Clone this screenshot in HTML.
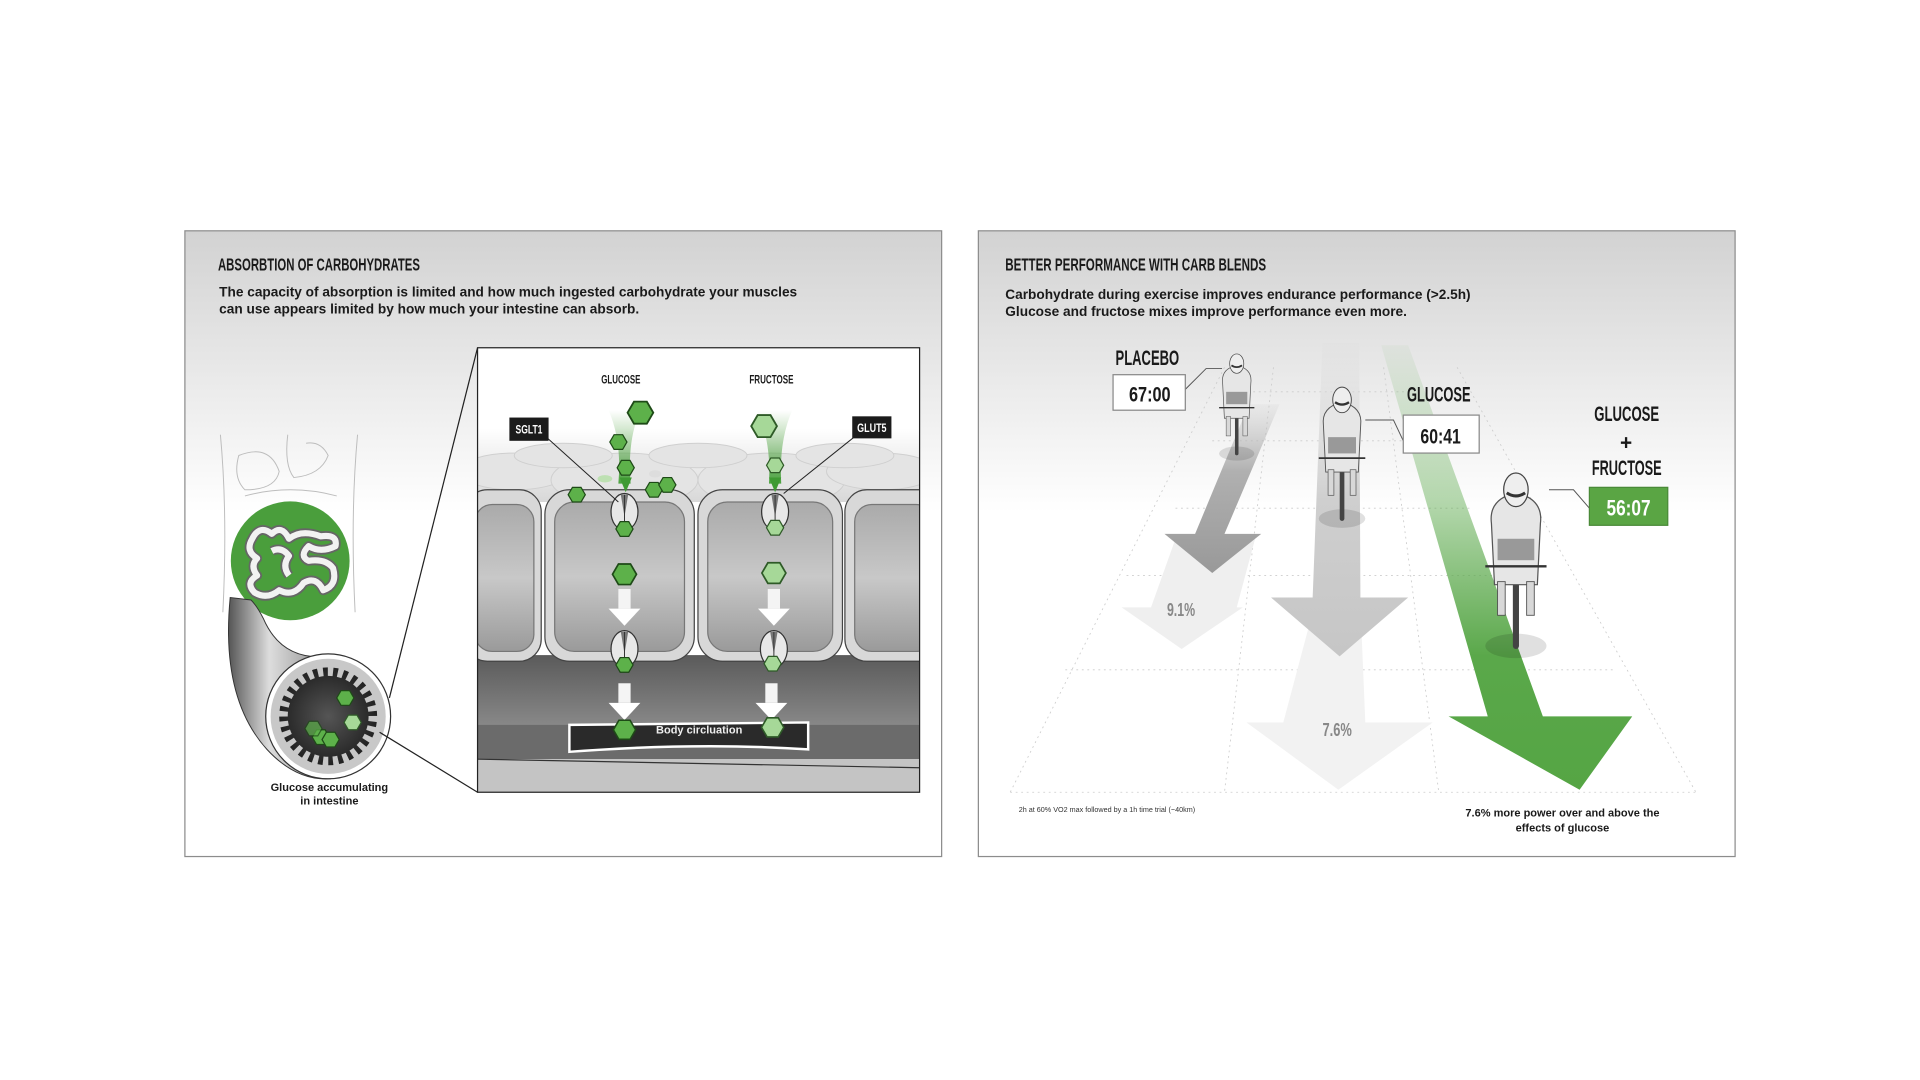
<!DOCTYPE html>
<html><head><meta charset="utf-8"><style>
html,body{margin:0;padding:0;background:#fff;width:1920px;height:1080px;overflow:hidden}
svg{display:block}
.t{font-family:"Liberation Sans Narrow","Liberation Sans",sans-serif;font-weight:bold;fill:#1a1a1a}
.b{font-family:"Liberation Sans",sans-serif;font-weight:bold;fill:#1a1a1a}
</style></head><body>
<svg width="1920" height="1080" viewBox="0 0 1568 882" xmlns="http://www.w3.org/2000/svg">
<defs>
<linearGradient id="pg" x1="0" y1="0" x2="0" y2="1"><stop offset="0" stop-color="#d2d2d2"/><stop offset="0.45" stop-color="#fff"/><stop offset="1" stop-color="#fff"/></linearGradient>
<linearGradient id="cell" x1="0" y1="0" x2="0" y2="1"><stop offset="0" stop-color="#aaa"/><stop offset="0.5" stop-color="#c8c8c8"/><stop offset="1" stop-color="#9a9a9a"/></linearGradient>
<linearGradient id="top" x1="0" y1="0" x2="0" y2="1"><stop offset="0" stop-color="#fff"/><stop offset="1" stop-color="#d8d8d8"/></linearGradient>
<linearGradient id="dark" x1="0" y1="0" x2="0" y2="1"><stop offset="0" stop-color="#5a5a5a"/><stop offset="1" stop-color="#8a8a8a"/></linearGradient>
<linearGradient id="gbeam" x1="0" y1="0" x2="0" y2="1"><stop offset="0" stop-color="#5aa84a" stop-opacity="0"/><stop offset="1" stop-color="#4ca340"/></linearGradient>
<linearGradient id="garr" x1="0" y1="0" x2="0" y2="1"><stop offset="0" stop-color="#5aa84a" stop-opacity="0.05"/><stop offset="0.35" stop-color="#5aa84a" stop-opacity="0.45"/><stop offset="0.7" stop-color="#5aa84a"/><stop offset="1" stop-color="#55a544"/></linearGradient>
<linearGradient id="grr" x1="0" y1="0" x2="0" y2="1"><stop offset="0" stop-color="#bdbdbd" stop-opacity="0.1"/><stop offset="0.4" stop-color="#b0b0b0"/><stop offset="1" stop-color="#999"/></linearGradient>
<linearGradient id="grr2" x1="0" y1="0" x2="0" y2="1"><stop offset="0" stop-color="#ddd" stop-opacity="0.2"/><stop offset="0.5" stop-color="#cfcfcf"/><stop offset="1" stop-color="#c6c6c6"/></linearGradient>
<linearGradient id="tubeg" x1="0" y1="0" x2="1" y2="0"><stop offset="0" stop-color="#555"/><stop offset="0.4" stop-color="#ddd"/><stop offset="1" stop-color="#888"/></linearGradient>
<radialGradient id="tube" cx="0.5" cy="0.5" r="0.5"><stop offset="0" stop-color="#555"/><stop offset="1" stop-color="#222"/></radialGradient>
<polygon id="hx" points="-7,0 -3.5,-6 3.5,-6 7,0 3.5,6 -3.5,6" fill="#5db14a" stroke="#1e4a17" stroke-width="1"/>
<polygon id="hxl" points="-7,0 -3.5,-6 3.5,-6 7,0 3.5,6 -3.5,6" fill="#a6d898" stroke="#2e5a27" stroke-width="1"/>
<g id="trans"><ellipse cx="0" cy="0" rx="11" ry="15" fill="#e8e8e8" stroke="#333" stroke-width="1"/><path d="M-3,-14 L0,4 L3,-14Z" fill="#777"/><line x1="0" y1="-14" x2="0" y2="14" stroke="#333" stroke-width="0.8"/></g>
<g id="wa"><rect x="-5" y="-14" width="10" height="16" fill="#f4f4f4"/><polygon points="-13,2 13,2 0,16" fill="#fff"/></g>
<g id="cyc">
<ellipse cx="0" cy="70" rx="20" ry="8" fill="#000" opacity="0.12"/>
<rect x="-2" y="20" width="4" height="52" rx="2" fill="#444"/>
<path d="M-16,-10 Q-18,-26 0,-30 Q18,-26 16,-10 L14,30 L-14,30Z" fill="#e6e6e6" stroke="#555" stroke-width="0.8"/>
<rect x="-12" y="0" width="24" height="14" fill="#999"/>
<ellipse cx="0" cy="-32" rx="8" ry="11" fill="#eee" stroke="#444" stroke-width="0.8"/>
<path d="M-6,-30 Q0,-26 6,-30" stroke="#333" stroke-width="2" fill="none"/>
<line x1="-20" y1="18" x2="20" y2="18" stroke="#333" stroke-width="1.5"/>
<rect x="-12" y="28" width="5" height="22" fill="#d8d8d8" stroke="#555" stroke-width="0.6"/>
<rect x="7" y="28" width="5" height="22" fill="#d8d8d8" stroke="#555" stroke-width="0.6"/>
</g>
</defs>

<!-- LEFT PANEL -->
<rect x="151" y="188.5" width="618" height="511" fill="url(#pg)" stroke="#8c8c8c" stroke-width="1"/>
<text class="t" x="178" y="221" font-size="14" textLength="165" lengthAdjust="spacingAndGlyphs">ABSORBTION OF CARBOHYDRATES</text>
<text class="b" x="179" y="242" font-size="11" textLength="472" lengthAdjust="spacingAndGlyphs">The capacity of absorption is limited and how much ingested carbohydrate your muscles</text>
<text class="b" x="179" y="256" font-size="11" textLength="343" lengthAdjust="spacingAndGlyphs">can use appears limited by how much your intestine can absorb.</text>

<!-- torso -->
<g fill="none" stroke="#bdbdbd" stroke-width="0.8">
<path d="M180,355 Q186,420 182,500"/><path d="M292,355 Q286,420 290,500"/>
<path d="M235,355 Q232,380 240,390 Q262,388 268,372 Q262,360 250,362"/>
<path d="M195,372 Q220,362 228,385 Q225,400 200,400 Q190,390 195,372Z"/>
<path d="M200,405 Q237,395 275,405"/>
</g>
<circle cx="237" cy="458" r="48.5" fill="#4a9e3c"/>
<path d="M206,440 Q212,428 222,436 Q230,428 236,440 Q246,432 262,438 Q276,436 274,446 Q262,452 252,446 Q244,454 252,458 Q266,456 272,464 Q276,478 264,482 Q258,470 248,476 Q240,488 228,482 Q218,490 208,484 Q200,476 210,470 Q204,462 210,456 Q200,450 206,440Z M222,450 Q230,446 236,454 Q230,462 236,470" fill="none" stroke="#666" stroke-width="8" stroke-linejoin="round"/>
<path d="M206,440 Q212,428 222,436 Q230,428 236,440 Q246,432 262,438 Q276,436 274,446 Q262,452 252,446 Q244,454 252,458 Q266,456 272,464 Q276,478 264,482 Q258,470 248,476 Q240,488 228,482 Q218,490 208,484 Q200,476 210,470 Q204,462 210,456 Q200,450 206,440Z M222,450 Q230,446 236,454 Q230,462 236,470" fill="none" stroke="#f2f2f2" stroke-width="5" stroke-linejoin="round"/>
<!-- tube to cross section -->
<path d="M188,488 Q180,570 218,612 Q242,638 270,636 L268,536 Q230,540 215,505 Q210,495 205,490Z" fill="url(#tubeg)" stroke="#333" stroke-width="0.8"/>
<circle cx="268" cy="585" r="51" fill="#fff" stroke="#333" stroke-width="1"/>
<circle cx="268" cy="585" r="47" fill="#c8c8c8"/>
<circle cx="268" cy="585" r="40" fill="url(#tube)"/>
<circle cx="268" cy="585" r="38" fill="none" stroke="#c8c8c8" stroke-width="10" stroke-dasharray="4.5 4"/>
<use href="#hx" x="282" y="570"/>
<use href="#hxl" x="288" y="590"/>
<use href="#hx" x="262" y="602"/><use href="#hx" x="270" y="604"/><use href="#hx" x="256" y="595" opacity="0.7"/>
<text class="b" x="269" y="646" font-size="9" text-anchor="middle">Glucose accumulating</text>
<text class="b" x="269" y="657" font-size="9" text-anchor="middle">in intestine</text>
<line x1="318" y1="570" x2="390" y2="284" stroke="#222" stroke-width="1"/>
<line x1="310" y1="598" x2="390" y2="647" stroke="#222" stroke-width="1"/>

<!-- inset -->
<svg x="390" y="284" width="361" height="363" viewBox="390 284 361 363">
<rect x="390" y="284" width="361" height="363" fill="#fff"/>
<rect x="390" y="350" width="361" height="60" fill="url(#top)"/>
<g fill="#e4e4e4" stroke="#cfcfcf" stroke-width="0.8">
<ellipse cx="420" cy="385" rx="45" ry="15"/><ellipse cx="510" cy="392" rx="60" ry="22"/><ellipse cx="630" cy="392" rx="60" ry="22"/><ellipse cx="720" cy="385" rx="45" ry="15"/>
<ellipse cx="460" cy="372" rx="40" ry="10"/><ellipse cx="570" cy="372" rx="40" ry="10"/><ellipse cx="690" cy="372" rx="40" ry="10"/>
</g>
<rect x="390" y="535" width="361" height="60" fill="url(#dark)"/>
<rect x="390" y="592" width="361" height="28" fill="#6b6b6b"/>
<rect x="390" y="620" width="361" height="27" fill="#c4c4c4"/>
<line x1="390" y1="620" x2="751" y2="627" stroke="#333"/>
<g stroke="#444" stroke-width="1">
<rect x="380" y="400" width="62" height="140" rx="18" fill="#d8d8d8"/><rect x="388" y="412" width="48" height="120" rx="14" fill="url(#cell)" stroke="#777"/>
<rect x="445" y="400" width="122" height="140" rx="20" fill="#d8d8d8"/><rect x="453" y="410" width="106" height="122" rx="16" fill="url(#cell)" stroke="#777"/>
<rect x="570" y="400" width="118" height="140" rx="20" fill="#d8d8d8"/><rect x="578" y="410" width="102" height="122" rx="16" fill="url(#cell)" stroke="#777"/>
<rect x="690" y="400" width="80" height="140" rx="18" fill="#d8d8d8"/><rect x="698" y="412" width="64" height="120" rx="14" fill="url(#cell)" stroke="#777"/>
</g>
<path d="M465,592 L660,590 L660,612 Q570,606 465,614Z" fill="#2a2a2a" stroke="#fff" stroke-width="2"/>
<text class="b" x="571" y="599" font-size="9" style="fill:#eee" text-anchor="middle">Body circluation</text>
<path d="M497,335 Q508,360 505,395 L515,395 Q512,360 523,335Z" fill="url(#gbeam)"/>
<path d="M618,335 Q630,360 628,395 L638,395 Q636,360 647,335Z" fill="url(#gbeam)"/>
<polygon points="506,390 516,390 511,402" fill="#3f9a33"/>
<polygon points="628,390 638,390 633,402" fill="#3f9a33"/>
<use href="#hx" transform="translate(523,337) scale(1.5)"/><use href="#hx" x="505" y="361"/>
<use href="#hx" x="511" y="382" transform="translate(0,0)"/><use href="#hx" x="471" y="404"/><use href="#hx" x="534" y="400"/><use href="#hx" x="545" y="396"/>
<ellipse cx="494" cy="391" rx="6" ry="3" fill="#bde0b2"/><ellipse cx="535" cy="387" rx="5" ry="3" fill="#ddd"/>
<use href="#hxl" transform="translate(624,348) scale(1.5)"/><use href="#hxl" x="633" y="380"/>
<use href="#trans" x="510" y="418"/><use href="#trans" x="633" y="418"/>
<use href="#hx" x="510" y="432"/><use href="#hxl" x="633" y="431"/>
<use href="#hx" transform="translate(510,469) scale(1.4)"/><use href="#hxl" transform="translate(632,468) scale(1.4)"/>
<use href="#wa" x="510" y="495"/><use href="#wa" x="632" y="495"/>
<use href="#trans" x="510" y="530"/><use href="#trans" x="632" y="530"/>
<use href="#hx" x="510" y="543"/><use href="#hxl" x="631" y="542"/>
<use href="#wa" x="510" y="572"/><use href="#wa" x="630" y="572"/>
<use href="#hx" transform="translate(510,596) scale(1.3)"/><use href="#hxl" transform="translate(631,594) scale(1.3)"/>
<text class="t" x="491" y="313" font-size="10" textLength="32" lengthAdjust="spacingAndGlyphs">GLUCOSE</text>
<text class="t" x="612" y="313" font-size="10" textLength="36" lengthAdjust="spacingAndGlyphs">FRUCTOSE</text>
<line x1="445" y1="356" x2="505" y2="410" stroke="#222" stroke-width="0.8"/>
<line x1="700" y1="355" x2="640" y2="403" stroke="#222" stroke-width="0.8"/>
<rect x="416" y="341" width="32" height="19" fill="#1b1b1b"/><text class="t" x="421" y="354" font-size="10" style="fill:#fff" textLength="22" lengthAdjust="spacingAndGlyphs">SGLT1</text>
<rect x="696" y="340" width="32" height="18" fill="#1b1b1b"/><text class="t" x="700" y="353" font-size="10" style="fill:#fff" textLength="24" lengthAdjust="spacingAndGlyphs">GLUT5</text>
</svg>
<rect x="390" y="284" width="361" height="363" fill="none" stroke="#222" stroke-width="1"/>

<!-- RIGHT PANEL -->
<rect x="799" y="188.5" width="618" height="511" fill="url(#pg)" stroke="#8c8c8c" stroke-width="1"/>
<text class="t" x="821" y="221" font-size="14" textLength="213" lengthAdjust="spacingAndGlyphs">BETTER PERFORMANCE WITH CARB BLENDS</text>
<text class="b" x="821" y="244" font-size="11" textLength="380" lengthAdjust="spacingAndGlyphs">Carbohydrate during exercise improves endurance performance (&gt;2.5h)</text>
<text class="b" x="821" y="258" font-size="11" textLength="328" lengthAdjust="spacingAndGlyphs">Glucose and fructose mixes improve performance even more.</text>
<g stroke="#ccc" stroke-width="0.7" stroke-dasharray="1.5 3" fill="none">
<line x1="1010" y1="320" x2="1150" y2="320"/><line x1="990" y1="360" x2="1170" y2="360"/><line x1="960" y1="415" x2="1200" y2="415"/>
<line x1="920" y1="470" x2="1240" y2="470"/><line x1="870" y1="547" x2="1320" y2="547"/><line x1="825" y1="647" x2="1385" y2="647"/>
<line x1="1000" y1="300" x2="825" y2="647"/><line x1="1040" y1="300" x2="1000" y2="647"/><line x1="1130" y1="300" x2="1175" y2="647"/><line x1="1190" y1="300" x2="1385" y2="647"/>
</g>
<polygon points="1005,440 1025,440 1010,496 1015,496 965,530 916,496 940,496 960,440" fill="#efefef"/>
<polygon points="1030,330 1045,330 1000,436 1030,436 990,468 951,436 976,436 1020,330" fill="url(#grr)"/>
<polygon points="1080,470 1110,470 1115,590 1170,590 1093,645 1018,590 1048,590" fill="#f2f2f2"/>
<polygon points="1080,280 1110,280 1111,488 1150,488 1094,536 1038,488 1072,488" fill="url(#grr2)"/>
<polygon points="1128,282 1150,282 1260,585 1333,585 1290,645 1183,585 1215,585" fill="url(#garr)"/>
<use href="#cyc" transform="translate(1010,320) scale(0.72)"/>
<use href="#cyc" transform="translate(1096,357) scale(0.95)"/>
<use href="#cyc" transform="translate(1238,440) scale(1.25)"/>
<text class="t" x="911" y="298" font-size="17" textLength="52" lengthAdjust="spacingAndGlyphs">PLACEBO</text>
<polyline points="968,318 985,301 998,301" fill="none" stroke="#555" stroke-width="0.8"/>
<rect x="909" y="306" width="59" height="29" fill="#fff" stroke="#888"/>
<text class="t" x="922" y="328" font-size="17" textLength="34" lengthAdjust="spacingAndGlyphs">67:00</text>
<text class="t" x="1149" y="328" font-size="17" textLength="52" lengthAdjust="spacingAndGlyphs">GLUCOSE</text>
<polyline points="1146,360 1138,343 1115,343" fill="none" stroke="#555" stroke-width="0.8"/>
<rect x="1146" y="339" width="62" height="31" fill="#fff" stroke="#888"/>
<text class="t" x="1160" y="362" font-size="17" textLength="33" lengthAdjust="spacingAndGlyphs">60:41</text>
<text class="t" x="1302" y="344" font-size="17" textLength="53" lengthAdjust="spacingAndGlyphs">GLUCOSE</text>
<text class="t" x="1328" y="367" font-size="17" text-anchor="middle">+</text>
<text class="t" x="1300" y="388" font-size="17" textLength="57" lengthAdjust="spacingAndGlyphs">FRUCTOSE</text>
<polyline points="1298,415 1285,400 1265,400" fill="none" stroke="#555" stroke-width="0.8"/>
<rect x="1298" y="398" width="64" height="31" fill="#5aa544" stroke="#4a8a38"/>
<text class="t" x="1312" y="421" font-size="18" style="fill:#fff" textLength="36" lengthAdjust="spacingAndGlyphs">56:07</text>
<text class="t" x="953" y="503" font-size="15" style="fill:#888" textLength="23" lengthAdjust="spacingAndGlyphs">9.1%</text>
<text class="t" x="1080" y="601" font-size="15" style="fill:#888" textLength="24" lengthAdjust="spacingAndGlyphs">7.6%</text>
<text font-family="Liberation Sans,sans-serif" x="832" y="663" font-size="6" fill="#333" textLength="144" lengthAdjust="spacingAndGlyphs">2h at 60% VO2 max followed by a 1h time trial (~40km)</text>
<text class="b" x="1276" y="667" font-size="9" text-anchor="middle">7.6% more power over and above the</text>
<text class="b" x="1276" y="679" font-size="9" text-anchor="middle">effects of glucose</text>
</svg>
</body></html>
